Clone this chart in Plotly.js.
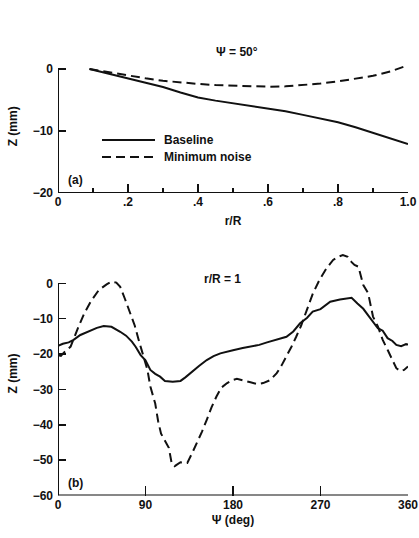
<!DOCTYPE html>
<html>
<head>
<meta charset="utf-8">
<script src="https://cdn.plot.ly/plotly-3.0.1.min.js"></script>
<style>html,body{margin:0;padding:0;background:#fff;}#chart{width:419px;height:538px;}</style>
</head>
<body>
<div id="chart"></div>
<script>
// Panel (a): psi = 50 deg, Z vs r/R
var rR = [0.09,0.15,0.2,0.25,0.3,0.35,0.4,0.45,0.5,0.55,0.6,0.65,0.7,0.75,0.8,0.85,0.9,0.95,1.0];
var zBaselineA = [0,-0.8,-1.5,-2.2,-2.9,-3.8,-4.6,-5.1,-5.5,-5.9,-6.3,-6.8,-7.4,-8.0,-8.6,-9.4,-10.3,-11.1,-12.1];
var zMinNoiseA = [0,-0.6,-1.1,-1.5,-1.9,-2.2,-2.4,-2.6,-2.7,-2.8,-2.85,-2.8,-2.6,-2.35,-2.0,-1.6,-1.1,-0.4,0.6];

// Panel (b): r/R = 1, Z vs psi
var psiBase = [0,5,11,16,23,30,40,47,55,64,70,76,80,85,90,95,100,105,110,118,126,131,136,145,153,160,167,175,180,190,198,207,215,225,235,242,249,256,262,270,280,290,302,308,314,320,329,334,339,344,348,353,358,360];
var zBaselineB = [-17.7,-17.1,-16.7,-16.0,-14.6,-13.7,-12.6,-12.1,-12.3,-13.7,-14.8,-16.5,-18.0,-20.3,-21.8,-24.5,-25.6,-26.4,-27.6,-27.8,-27.6,-26.6,-25.4,-23.4,-21.7,-20.6,-19.8,-19.2,-18.9,-18.3,-17.9,-17.4,-16.7,-15.8,-15.1,-13.6,-11.3,-9.8,-8.0,-7.3,-5.2,-4.6,-4.1,-5.7,-7.2,-9.4,-12.7,-13.4,-15.5,-16.3,-17.4,-17.8,-17.2,-17.3];
var psiMin = [0,3,6,9,13,20,27,34,42,50,55,60,64,69,74,79,83,88,92,95,100,103,106,110,114,117,120,126,133,138,143,148,153,158,163,168,174,180,184,190,198,205,211,218,225,230,235,240,245,250,256,262,269,276,283,288,293,298,302,305,309,314,319,324,329,334,339,344,348,352,356,360];
var zMinNoiseB = [-20.3,-20.5,-19.6,-18.8,-17.9,-13.0,-8.5,-5.0,-1.9,-0.3,0.45,0.2,-1.0,-4.5,-8.5,-12.0,-16.0,-20.5,-24.5,-29.2,-34.0,-39.0,-42.5,-44.5,-46.5,-51.0,-51.7,-50.6,-50.8,-48.0,-45.2,-42.0,-38.6,-35.0,-32.0,-29.5,-28.2,-27.3,-27.0,-27.5,-28.0,-28.5,-28.2,-27.4,-25.4,-23.2,-20.7,-18.0,-15.1,-12.0,-7.5,-3.0,1.0,4.2,6.6,7.5,8.0,7.5,6.0,5.2,4.7,-0.5,-2.8,-9.4,-12.2,-16.0,-18.8,-21.7,-24.0,-24.8,-24.5,-23.5];

var xTickValsA = [0,0.2,0.4,0.6,0.8,1.0];
var xTickTextA = ['0','.2','.4','.6','.8','1.0'];
var xMinorA = [0.1,0.3,0.5,0.7,0.9];
var yTickValsA = [0,-10,-20];
var xTickValsB = [0,90,180,270,360];
var yTickValsB = [0,-10,-20,-30,-40,-50,-60];
var seriesNames = ['Baseline','Minimum noise'];

var FONT = 'Liberation Sans, Arial, Helvetica, sans-serif';
var ink = '#111';
var lw = 2;
var dashPat = '9px,5px';

var traces = [
  {x: rR, y: zBaselineA, xaxis:'x', yaxis:'y', mode:'lines', name: seriesNames[0], line:{color:ink, width:lw}, showlegend:false},
  {x: rR, y: zMinNoiseA, xaxis:'x', yaxis:'y', mode:'lines', name: seriesNames[1], line:{color:ink, width:lw, dash:dashPat}, showlegend:false},
  {x: psiBase, y: zBaselineB, xaxis:'x2', yaxis:'y2', mode:'lines', name: seriesNames[0], line:{color:ink, width:lw}, showlegend:false},
  {x: psiMin, y: zMinNoiseB, xaxis:'x2', yaxis:'y2', mode:'lines', name: seriesNames[1], line:{color:ink, width:lw, dash:dashPat}, showlegend:false}
];

var tickFont = {family: FONT, size: 12, color: ink, weight: 'bold'};
var titleFont = {family: FONT, size: 12, color: ink, weight: 'bold'};
var xd = [58/419, 408/419];

var layout = {
  width: 419, height: 538, autosize: false,
  margin: {l:0, r:0, t:0, b:0, pad:0},
  paper_bgcolor: '#fff', plot_bgcolor: 'rgba(0,0,0,0)',
  showlegend: false,
  font: {family: FONT, color: ink},
  xaxis: {
    domain: xd, anchor: 'y', range: [0, 1], showgrid:false, zeroline:false, showline:false,
    tickmode:'array', tickvals: xTickValsA, ticktext: xTickTextA,
    ticks:'inside', ticklen:9, tickwidth:1.5, tickcolor: ink, tickfont: tickFont,
    minor: {tickvals: xMinorA, ticks:'inside', ticklen:5, tickwidth:1.5, tickcolor: ink, showgrid:false},
    title: {text:'r/R', font: titleFont, standoff: 8}, automargin:false
  },
  yaxis: {
    domain: [1-193/538, 1-59.7/538], anchor:'x', range: [-20, 1.5], showgrid:false, zeroline:false, showline:false,
    tickmode:'array', tickvals: yTickValsA, ticks:'inside', ticklen:8, tickwidth:1.5, tickcolor: ink, tickfont: tickFont,
    ticklabelstandoff: 4,
    title: {text:'Z (mm)', font: titleFont, standoff: 12}, automargin:false
  },
  xaxis2: {
    domain: xd, anchor: 'y2', range: [0, 360], showgrid:false, zeroline:false, showline:false,
    tickmode:'array', tickvals: xTickValsB,
    ticks:'inside', ticklen:10, tickwidth:1.5, tickcolor: ink, tickfont: tickFont,
    title: {text:'Ψ (deg)', font: titleFont, standoff: 5}, automargin:false
  },
  yaxis2: {
    domain: [1-495.5/538, 1-251.5/538], anchor:'x2', range: [-60, 9], showgrid:false, zeroline:false, showline:false,
    tickmode:'array', tickvals: yTickValsB, ticks:'inside', ticklen:8, tickwidth:1.5, tickcolor: ink, tickfont: tickFont,
    ticklabelstandoff: 4,
    title: {text:'Z (mm)', font: titleFont, standoff: 12}, automargin:false
  },
  shapes: [
    {type:'line', xref:'x', yref:'y', x0:0, x1:0, y0:-20, y1:0, line:{color:ink, width:2}},
    {type:'line', xref:'x', yref:'y', x0:0, x1:1, y0:-20, y1:-20, line:{color:ink, width:2}},
    {type:'line', xref:'x2', yref:'y2', x0:0, x1:0, y0:-60, y1:0, line:{color:ink, width:2}},
    {type:'line', xref:'x2', yref:'y2', x0:0, x1:360, y0:-60, y1:-60, line:{color:ink, width:2}},
    // legend samples
    {type:'line', xref:'paper', yref:'paper', x0:102/419, x1:155/419, y0:1-140/538, y1:1-140/538, line:{color:ink, width:lw}},
    {type:'line', xref:'paper', yref:'paper', x0:102/419, x1:155/419, y0:1-157/538, y1:1-157/538, line:{color:ink, width:lw, dash:dashPat}}
  ],
  annotations: [
    {text:'Ψ = 50°', xref:'paper', yref:'paper', x:237/419, y:1-52/538, xanchor:'center', yanchor:'middle', showarrow:false, font: titleFont},
    {text:'r/R = 1', xref:'paper', yref:'paper', x:223/419, y:1-279/538, xanchor:'center', yanchor:'middle', showarrow:false, font: titleFont},
    {text:'(a)', xref:'paper', yref:'paper', x:66/419, y:1-180/538, xanchor:'left', yanchor:'middle', showarrow:false, font: titleFont},
    {text:'(b)', xref:'paper', yref:'paper', x:66/419, y:1-483/538, xanchor:'left', yanchor:'middle', showarrow:false, font: titleFont},
    {text: seriesNames[0], xref:'paper', yref:'paper', x:162/419, y:1-140/538, xanchor:'left', yanchor:'middle', showarrow:false, font: titleFont},
    {text: seriesNames[1], xref:'paper', yref:'paper', x:162/419, y:1-157/538, xanchor:'left', yanchor:'middle', showarrow:false, font: titleFont}
  ]
};

Plotly.newPlot('chart', traces, layout, {staticPlot:true, displayModeBar:false});
</script>
</body>
</html>
